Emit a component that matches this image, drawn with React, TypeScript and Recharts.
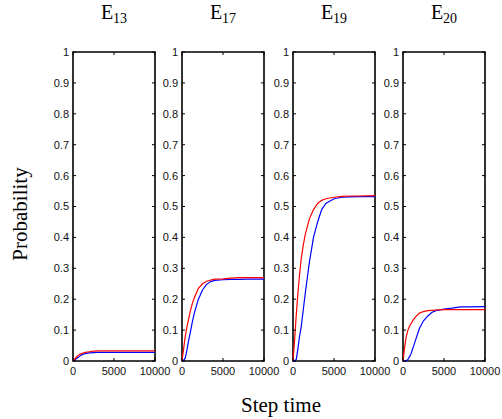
import React from 'react';
import { LineChart, Line, XAxis, YAxis, ReferenceArea } from 'recharts';

// step times shared by every panel
const steps = [0, 200, 400, 600, 800, 1000, 1250, 1500, 2000, 2500, 3000, 3500, 4000, 5000, 6000, 7000, 8000, 10000];

const e13Red = [0, 0.006, 0.012, 0.017, 0.021, 0.024, 0.026, 0.028, 0.03, 0.032, 0.033, 0.033, 0.033, 0.033, 0.033, 0.033, 0.033, 0.033];
const e13Blue = [0, 0.003, 0.007, 0.011, 0.015, 0.019, 0.022, 0.024, 0.026, 0.027, 0.028, 0.028, 0.028, 0.028, 0.028, 0.028, 0.028, 0.028];

const e17Red = [0, 0.04, 0.08, 0.11, 0.135, 0.16, 0.185, 0.205, 0.235, 0.25, 0.258, 0.262, 0.265, 0.266, 0.268, 0.27, 0.27, 0.27];
const e17Blue = [0, 0.002, 0.01, 0.035, 0.065, 0.09, 0.125, 0.155, 0.2, 0.23, 0.248, 0.257, 0.261, 0.263, 0.264, 0.264, 0.265, 0.265];

const e19Red = [0, 0.07, 0.15, 0.22, 0.28, 0.33, 0.375, 0.41, 0.46, 0.49, 0.51, 0.52, 0.525, 0.53, 0.533, 0.534, 0.534, 0.535];
const e19Blue = [0, 0.001, 0.005, 0.04, 0.08, 0.11, 0.165, 0.22, 0.32, 0.4, 0.45, 0.49, 0.51, 0.525, 0.53, 0.531, 0.532, 0.532];

const e20Red = [0, 0.045, 0.08, 0.1, 0.113, 0.122, 0.133, 0.142, 0.155, 0.16, 0.163, 0.164, 0.165, 0.166, 0.166, 0.166, 0.166, 0.166];
const e20Blue = [0, 0, 0.001, 0.005, 0.014, 0.025, 0.045, 0.065, 0.105, 0.13, 0.145, 0.157, 0.163, 0.168, 0.171, 0.175, 0.175, 0.176];

const yTicks = [0, 0.1, 0.2, 0.3, 0.4, 0.5, 0.6, 0.7, 0.8, 0.9, 1];
const xTicks = [0, 5000, 10000];

const panels = [
  { name: '13', red: e13Red, blue: e13Blue, left: 73 },
  { name: '17', red: e17Red, blue: e17Blue, left: 182 },
  { name: '19', red: e19Red, blue: e19Blue, left: 293 },
  { name: '20', red: e20Red, blue: e20Blue, left: 403 },
];

const PW = 82;
const PH = 309;
const TOP = 52;
const YW = 32;
const TL = 3; // inward tick length
const sans = 'Liberation Sans, Arial, sans-serif';
const serif = '"Liberation Serif", "Times New Roman", serif';

// y tick: label on the left plus inward marks on both sides of the box
const YTick = (props: any) => {
  const { x, y, payload } = props;
  const edge = x + 4;
  return (
    <g>
      <line x1={edge} x2={edge + TL} y1={y} y2={y} stroke="#000" />
      <line x1={edge + PW - TL} x2={edge + PW} y1={y} y2={y} stroke="#000" />
      <text x={x} y={y} dy="0.36em" textAnchor="end" fontSize={11} fill="#111" fontFamily={sans}>
        {payload.value}
      </text>
    </g>
  );
};

// x tick: label below plus inward marks on bottom and top of the box
const XTick = (props: any) => {
  const { x, y, payload } = props;
  const edge = y - 6;
  return (
    <g>
      <line x1={x} x2={x} y1={edge} y2={edge - TL} stroke="#000" />
      <line x1={x} x2={x} y1={edge - PH} y2={edge - PH + TL} stroke="#000" />
      <text x={x} y={y} dy="0.71em" textAnchor="middle" fontSize={11} fill="#111" fontFamily={sans}>
        {payload.value}
      </text>
    </g>
  );
};

function Panel({ p }: { p: (typeof panels)[number] }) {
  const data = steps.map((s, i) => ({ step: s, red: p.red[i], blue: p.blue[i] }));
  return (
    <div style={{ position: 'absolute', left: p.left - YW, top: TOP - 5 }}>
      <LineChart width={YW + PW + 22} height={5 + PH + 22} data={data} margin={{ top: 5, right: 22, bottom: 0, left: 0 }}>
        <XAxis dataKey="step" type="number" domain={[0, 10000]} ticks={xTicks} interval={0} height={22}
          tickSize={4} tickMargin={2} tick={<XTick />} axisLine={false} tickLine={false} />
        <YAxis type="number" domain={[0, 1]} ticks={yTicks} interval={0} width={YW}
          tickSize={2} tickMargin={2} tick={<YTick />} axisLine={false} tickLine={false} />
        {/* box frame round the plot */}
        <ReferenceArea x1={0} x2={10000} y1={0} y2={1} fill="none" stroke="#000" strokeWidth={1.6} ifOverflow="visible" />
        <Line type="linear" dataKey="blue" stroke="#0000ff" strokeWidth={1.2} dot={false} isAnimationActive={false} />
        <Line type="linear" dataKey="red" stroke="#ff0000" strokeWidth={1.2} dot={false} isAnimationActive={false} />
      </LineChart>
    </div>
  );
}

export default function App() {
  return (
    <div style={{ position: 'absolute', left: 0, top: 0, width: 502, height: 419, background: '#fff', fontFamily: serif }}>
      {panels.map((p) => (
        <div key={'t' + p.name} style={{ position: 'absolute', left: p.left, width: PW, top: 0, textAlign: 'center', fontSize: 20, lineHeight: '24px' }}>
          E<span style={{ fontSize: 14, position: 'relative', top: 4 }}>{p.name}</span>
        </div>
      ))}
      {panels.map((p) => (
        <Panel key={p.name} p={p} />
      ))}
      <div style={{ position: 'absolute', left: 20, top: 214, transform: 'translate(-50%, -50%) rotate(-90deg)', fontSize: 21, whiteSpace: 'nowrap' }}>
        Probability
      </div>
      <div style={{ position: 'absolute', left: 281, top: 405, transform: 'translate(-50%, -50%)', fontSize: 21, whiteSpace: 'nowrap' }}>
        Step time
      </div>
    </div>
  );
}
